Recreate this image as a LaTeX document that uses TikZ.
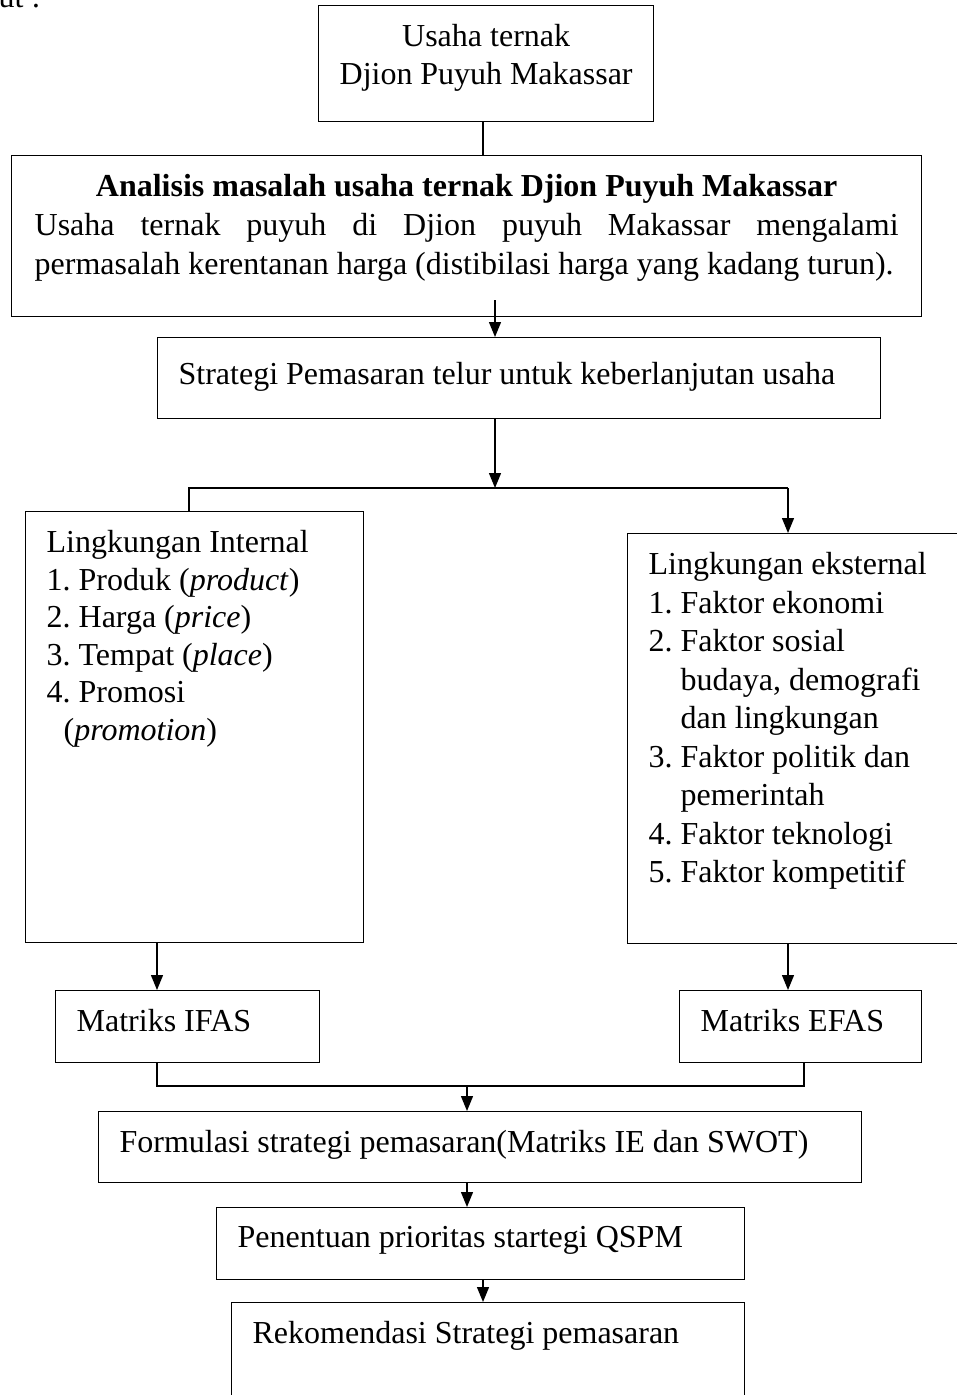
\documentclass[tikz,border=0pt]{standalone}
\usepackage{fontspec}
\setmainfont{Liberation Serif}
\usepackage{tikz}
\usetikzlibrary{arrows.meta,positioning}
\tikzset{
  flowbox/.style={draw, line width=1.3pt, anchor=north west, inner xsep=21pt, inner ysep=19pt,
    font=\fontsize{32}{37.5}\selectfont\frenchspacing},
  link/.style={line width=1.3pt},
  arr/.style={line width=1.3pt, -{Triangle[length=15pt,width=12pt]}},
}

\begin{document}
\begin{tikzpicture}[x=1pt, y=-1pt]
  \useasboundingbox (0,0) rectangle (956,1395);
  \node[anchor=base east, font=\fontsize{32}{37.5}\selectfont] (lead) at (44,7) {berikut :};

  % Top boxes
  \node[flowbox] (usaha) at (318,5)
    {\parbox[t][78pt][t]{293pt}{\centering Usaha ternak\\Djion Puyuh Makassar}};
  \node[flowbox, inner xsep=23pt] (analisis) at (11,155)
    {\fontsize{32}{39}\selectfont\parbox[t][123pt][t]{864pt}{{\centering\bfseries Analisis masalah usaha ternak Djion Puyuh Makassar\par}
     Usaha ternak puyuh di Djion puyuh Makassar mengalami\linebreak
     \mbox{permasalah kerentanan harga (distibilasi harga yang kadang turun).}}};
  \node[flowbox, inner ysep=25pt] (strategi) at (157,337)
    {\parbox[t][31pt][t]{681pt}{\raggedright Strategi Pemasaran telur untuk keberlanjutan usaha}};

  % Environment boxes
  \node[flowbox] (internal) at (25,511)
    {\parbox[t][393pt][t]{296pt}{\raggedright Lingkungan Internal\\
      1. Produk (\textit{product})\\
      2. Harga (\textit{price})\\
      3. Tempat (\textit{place})\\
      4. Promosi\\
      \hspace*{17pt}(\textit{promotion})}};
  \node[flowbox] (external) at (627,533)
    {\fontsize{32}{38.5}\selectfont\parbox[t][372pt][t]{331pt}{\raggedright Lingkungan eksternal\\
      1. Faktor ekonomi\\
      2. Faktor sosial\\
      \hspace*{32pt}budaya, demografi\\
      \hspace*{32pt}dan lingkungan\\
      3. Faktor politik dan\\
      \hspace*{32pt}pemerintah\\
      4. Faktor teknologi\\
      5. Faktor kompetitif}};

  % Matrix boxes
  \node[flowbox] (ifas) at (55,990)
    {\parbox[t][34pt][t]{222pt}{\raggedright Matriks IFAS}};
  \node[flowbox] (efas) at (679,990)
    {\parbox[t][34pt][t]{200pt}{\raggedright Matriks EFAS}};

  % Lower boxes
  \node[flowbox] (formulasi) at (98,1111)
    {\parbox[t][33pt][t]{721pt}{\raggedright Formulasi strategi pemasaran(Matriks IE dan SWOT)}};
  \node[flowbox] (penentuan) at (216,1207)
    {\parbox[t][34pt][t]{486pt}{\raggedright Penentuan prioritas startegi QSPM}};
  \node[flowbox] (rekomendasi) at (231,1302)
    {\parbox[t][112pt][t]{471pt}{\raggedright Rekomendasi Strategi pemasaran}};

  % Connectors
  \coordinate (drop) at (495,300);
  \coordinate (split) at (495,488);
  \coordinate (splitL) at (189,488);
  \coordinate (splitR) at (788,488);
  \coordinate (colL) at (157,0);
  \coordinate (colR) at (788,0);
  \coordinate (merge) at (467,1086);
  \coordinate (mergeR) at (804,1086);
  \coordinate (colM) at (483,0);

  \draw[link] (usaha.south -| colM) -- (analisis.north -| colM);
  \draw[arr] (drop) -- (drop |- strategi.north);
  \draw[arr] (split |- strategi.south) -- (split);
  \draw[link] (splitL |- internal.north) -- (splitL) -- (splitR);
  \draw[arr] (splitR) -- (splitR |- external.north);
  \draw[arr] (internal.south -| colL) -- (ifas.north -| colL);
  \draw[arr] (external.south -| colR) -- (efas.north -| colR);
  \draw[link] (ifas.south -| colL) -- (colL |- merge) -- (mergeR) -- (efas.south -| mergeR);
  \draw[arr] (merge) -- (merge |- formulasi.north);
  \draw[arr] (formulasi.south -| merge) -- (penentuan.north -| merge);
  \draw[arr] (penentuan.south -| colM) -- (rekomendasi.north -| colM);
\end{tikzpicture}
\end{document}
